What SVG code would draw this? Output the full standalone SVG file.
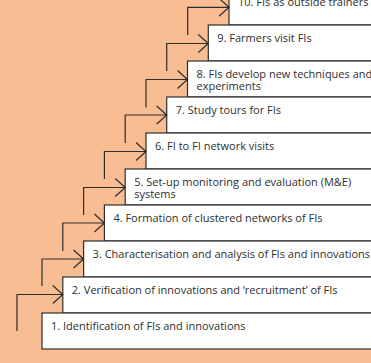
<svg xmlns="http://www.w3.org/2000/svg" width="371" height="363" viewBox="0 0 371 363">
  <defs>
    <style>
      .box { fill: #ffffff; stroke: #2e2e2e; stroke-width: 1.2; }
      .lbl { font-family: "Open Sans", "Noto Sans", sans-serif; font-size: 11px; fill: #2e2e2e; }
      .con { fill: none; stroke: #2e2e2e; stroke-width: 1.2; }
    </style>
  </defs>
  <rect x="0" y="0" width="371" height="363" fill="#f9bd94"/>

  <!-- steps, drawn from the top so each lower step sits over the one above -->
  <g id="step10"><rect class="box" x="229" y="-11" width="160" height="36"/><text class="lbl" x="238" y="6">10. FIs as outside trainers</text></g>
  <g id="step9"><rect class="box" x="208.3" y="25" width="180" height="36"/><text class="lbl" x="217.3" y="42">9. Farmers visit FIs</text></g>
  <g id="step8"><rect class="box" x="187.5" y="61" width="200" height="36"/><text class="lbl" x="196.5" y="78">8. FIs develop new techniques and</text><text class="lbl" x="196.5" y="89.5">experiments</text></g>
  <g id="step7"><rect class="box" x="166.7" y="97" width="220" height="36"/><text class="lbl" x="175.7" y="114">7. Study tours for FIs</text></g>
  <g id="step6"><rect class="box" x="146" y="133" width="240" height="36"/><text class="lbl" x="155" y="150">6. FI to FI network visits</text></g>
  <g id="step5"><rect class="box" x="125.2" y="169" width="260" height="36"/><text class="lbl" x="134.2" y="186">5. Set-up monitoring and evaluation (M&amp;E)</text><text class="lbl" x="134.2" y="197.5">systems</text></g>
  <g id="step4"><rect class="box" x="104.4" y="205" width="280" height="36"/><text class="lbl" x="113.4" y="222">4. Formation of clustered networks of FIs</text></g>
  <g id="step3"><rect class="box" x="83.6" y="241" width="300" height="36"/><text class="lbl" x="92.6" y="258">3. Characterisation and analysis of FIs and innovations</text></g>
  <g id="step2"><rect class="box" x="62.8" y="277" width="320" height="36"/><text class="lbl" x="71.8" y="294">2. Verification of innovations and ‘recruitment’ of FIs</text></g>
  <g id="step1"><rect class="box" x="42" y="313" width="340" height="36"/><text class="lbl" x="51" y="330">1. Identification of FIs and innovations</text></g>

  <!-- connectors: up from the previous step, across into the next -->
  <g id="connectors" class="con">
    <path d="M17 331 V294.5 H62.8 M52.8 285.5 L62.8 294.5 L52.8 303.5"/>
    <path d="M42 286 V259 H83.6 M73.6 250 L83.6 259 L73.6 268"/>
    <path d="M62.8 251 V223 H104.4 M94.4 214 L104.4 223 L94.4 232"/>
    <path d="M83.6 215 V187.5 H125.2 M115.2 178.5 L125.2 187.5 L115.2 196.5"/>
    <path d="M104.4 179 V151.5 H146 M136 142.5 L146 151.5 L136 160.5"/>
    <path d="M125.2 143 V115 H166.7 M156.7 106 L166.7 115 L156.7 124"/>
    <path d="M146 107.5 V79.5 H187.5 M177.5 70.5 L187.5 79.5 L177.5 88.5"/>
    <path d="M166.7 71 V43.5 H208.3 M198.3 34.5 L208.3 43.5 L198.3 52.5"/>
    <path d="M187.7 35 V7.3 H229 M219 -1.7 L229 7.3 L219 16.3"/>
  </g>
</svg>
